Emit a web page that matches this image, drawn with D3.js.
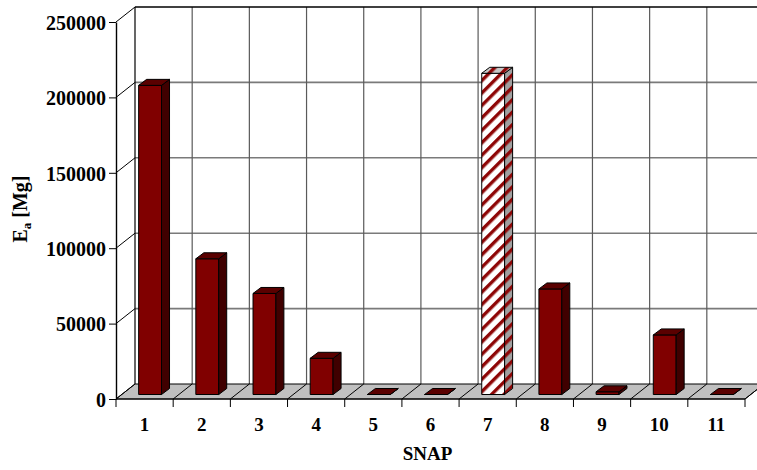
<!DOCTYPE html>
<html>
<head>
<meta charset="utf-8">
<script src="https://cdn.jsdelivr.net/npm/d3@7"></script>
<style>
  html, body { margin: 0; padding: 0; background: #fff; }
  svg text { font-family: "Liberation Serif", "Times New Roman", serif; font-weight: bold; fill: #000; }
</style>
</head>
<body>
<svg id="chart" width="757" height="470"></svg>
<script>
// SNAP categories and the annual emission per category (Mg)
const categories = ["1", "2", "3", "4", "5", "6", "7", "8", "9", "10", "11"];
const emissions = [205000, 90000, 67000, 24000, 0, 0, 213000, 70000, 1800, 39500, 0];
const highlighted = ["7"];            // drawn with the striped fill
const yTicks = [0, 50000, 100000, 150000, 200000, 250000];

const svg = d3.select("#chart");

// front plane of the 3-D box
const x0 = 116, x1 = 745, yTop = 22, yBase = 399;
// depth offset of the back wall, and of a single column
const depth = { dx: 19, dy: -15 };
const colDepth = { dx: 8, dy: -6 };
const colShift = { dx: (depth.dx - colDepth.dx) / 2, dy: (depth.dy - colDepth.dy) / 2 };

const x = d3.scaleBand().domain(categories).range([x0, x1]).paddingInner(0.6).paddingOuter(0.3);
const boundary = d3.scaleLinear().domain([0, categories.length]).range([x0, x1]);
const y = d3.scaleLinear().domain([0, 250000]).range([yBase, yTop]);

// striped fills for the highlighted column
const defs = svg.append("defs");
function stripes(id, bg) {
  const p = defs.append("pattern").attr("id", id).attr("patternUnits", "userSpaceOnUse")
    .attr("width", 8.8).attr("height", 8.8).attr("patternTransform", "rotate(-45)");
  p.append("rect").attr("width", 8.8).attr("height", 8.8).attr("fill", bg);
  p.append("rect").attr("width", 8.8).attr("height", 3.4).attr("fill", "#8e0606");
}
stripes("stripeFront", "#ffffff");
stripes("stripeSide", "#a0a0a0");
stripes("stripeTop", "#c8c8c8");

const g = svg.append("g");

// back wall grid
const backL = x0 + depth.dx, backR = x1 + depth.dx;
g.selectAll("line.hgrid").data(yTicks.slice(1, -1)).join("line")
  .attr("x1", backL).attr("x2", backR)
  .attr("y1", d => y(d) + depth.dy).attr("y2", d => y(d) + depth.dy)
  .attr("stroke", "#7a7a7a").attr("stroke-width", 1.6);
g.selectAll("line.vgrid").data(d3.range(1, categories.length + 1)).join("line")
  .attr("x1", d => boundary(d) + depth.dx).attr("x2", d => boundary(d) + depth.dx)
  .attr("y1", y(250000) + depth.dy).attr("y2", yBase + depth.dy)
  .attr("stroke", "#5a5a5a").attr("stroke-width", 1.2);
// top edge of back wall and its left edge
g.append("line").attr("x1", backL).attr("x2", backR)
  .attr("y1", y(250000) + depth.dy).attr("y2", y(250000) + depth.dy)
  .attr("stroke", "#000").attr("stroke-width", 1.4);
g.append("line").attr("x1", backL).attr("x2", backL)
  .attr("y1", y(250000) + depth.dy).attr("y2", yBase + depth.dy)
  .attr("stroke", "#000").attr("stroke-width", 1.2);

// side wall diagonals at each value tick
g.selectAll("line.side").data(yTicks.slice(1)).join("line")
  .attr("x1", x0).attr("y1", d => y(d))
  .attr("x2", x0 + depth.dx).attr("y2", d => y(d) + depth.dy)
  .attr("stroke", "#000").attr("stroke-width", 1);

// floor
g.append("path")
  .attr("d", `M${x0},${yBase}L${x1},${yBase}L${x1 + depth.dx},${yBase + depth.dy}L${backL},${yBase + depth.dy}Z`)
  .attr("fill", "#c0c0c0").attr("stroke", "#000").attr("stroke-width", 1);
g.selectAll("line.floor").data(d3.range(0, categories.length + 1)).join("line")
  .attr("x1", d => boundary(d)).attr("y1", yBase)
  .attr("x2", d => boundary(d) + depth.dx).attr("y2", yBase + depth.dy)
  .attr("stroke", "#000").attr("stroke-width", 1);

// columns
const bw = x.bandwidth();
const bars = g.selectAll("g.bar").data(categories.map((c, i) => ({ c, v: emissions[i] }))).join("g");
bars.each(function (d) {
  const b = d3.select(this);
  const hl = highlighted.includes(d.c);
  const left = x(d.c) + colShift.dx;
  const right = left + bw;
  const bottom = y(0) + colShift.dy;
  const top = y(d.v) + colShift.dy;
  const ddx = colDepth.dx, ddy = colDepth.dy;
  // front face
  b.append("path").attr("d", `M${left},${bottom}L${right},${bottom}L${right},${top}L${left},${top}Z`)
    .attr("fill", hl ? "url(#stripeFront)" : "#800000")
    .attr("stroke", "#000").attr("stroke-width", 1).attr("stroke-linejoin", "round");
  // side face
  b.append("path").attr("d", `M${right},${bottom}L${right + ddx},${bottom + ddy}L${right + ddx},${top + ddy}L${right},${top}Z`)
    .attr("fill", hl ? "url(#stripeSide)" : "#400000")
    .attr("stroke", "#000").attr("stroke-width", 1).attr("stroke-linejoin", "round");
  // top face
  b.append("path").attr("d", `M${left},${top}L${right},${top}L${right + ddx},${top + ddy}L${left + ddx},${top + ddy}Z`)
    .attr("fill", hl ? "url(#stripeTop)" : "#5a0000")
    .attr("stroke", "#000").attr("stroke-width", 1).attr("stroke-linejoin", "round");
});

// value axis
const yAxis = d3.axisLeft(y).tickValues(yTicks).tickSize(7).tickSizeOuter(0).tickPadding(3)
  .tickFormat(d3.format("d"));
const ya = svg.append("g").attr("transform", `translate(${x0},0)`).call(yAxis);
ya.select(".domain").attr("stroke", "#000").attr("stroke-width", 1.4);
ya.selectAll(".tick line").attr("stroke", "#000").attr("stroke-width", 1);
ya.selectAll(".tick text").attr("font-size", 20).attr("dy", "0.36em")
  .style("font-family", '"Liberation Serif", "Times New Roman", serif').style("font-weight", "bold");

// category axis: ticks at category boundaries, labels centred on each category
const xa = svg.append("g");
xa.append("line").attr("x1", x0).attr("x2", x1).attr("y1", yBase).attr("y2", yBase)
  .attr("stroke", "#000").attr("stroke-width", 1);
xa.selectAll("line.tk").data(d3.range(0, categories.length + 1)).join("line")
  .attr("x1", d => boundary(d)).attr("x2", d => boundary(d))
  .attr("y1", yBase).attr("y2", yBase + 8)
  .attr("stroke", "#000").attr("stroke-width", 1);
xa.selectAll("text").data(categories).join("text")
  .attr("x", d => x(d) + x.bandwidth() / 2).attr("y", 431)
  .attr("text-anchor", "middle").attr("font-size", 19).text(d => d);

// axis titles
svg.append("text").attr("x", (x0 + x1) / 2 - 3).attr("y", 460)
  .attr("text-anchor", "middle").attr("font-size", 19).text("SNAP");
const yt = svg.append("text").attr("transform", "translate(27,209) rotate(-90)")
  .attr("text-anchor", "middle").attr("font-size", 20);
yt.append("tspan").text("E");
yt.append("tspan").attr("font-size", 13).attr("dy", 4).text("a");
yt.append("tspan").attr("dy", -4).text(" [Mg]");
</script>
</body>
</html>
